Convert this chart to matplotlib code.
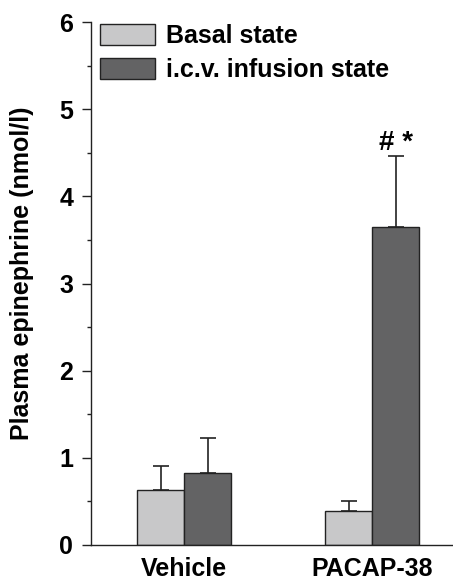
import matplotlib.pyplot as plt
from matplotlib.ticker import MultipleLocator

plt.rcParams['font.family'] = ['Liberation Sans', 'DejaVu Sans']
plt.rcParams['font.weight'] = 'bold'

# Plasma epinephrine (nmol/l)
groups = ['Vehicle', 'PACAP-38']
basal = [0.63, 0.39]
basal_err = [0.28, 0.11]
infusion = [0.83, 3.65]
infusion_err = [0.40, 0.81]
labels = ['Basal state', 'i.c.v. infusion state']

fig = plt.figure(figsize=(4.53, 5.84), dpi=100)
ax = fig.add_axes([0.2002, 0.0668, 0.7998, 0.8955])

x = list(range(len(groups)))
w = 0.25
ax.bar([i - w / 2 for i in x], basal, w, yerr=[[0] * len(x), basal_err],
       color='#c8c8c9', edgecolor='#222222', linewidth=1.0, label=labels[0],
       error_kw=dict(ecolor='#222222', elinewidth=1.2, capsize=5.5, capthick=1.2))
ax.bar([i + w / 2 for i in x], infusion, w, yerr=[[0] * len(x), infusion_err],
       color='#636364', edgecolor='#222222', linewidth=1.0, label=labels[1],
       error_kw=dict(ecolor='#222222', elinewidth=1.2, capsize=5.5, capthick=1.2))

ax.text(1 + w / 2, 4.53, '# *', ha='center', va='baseline', fontsize=20, fontweight='bold')

ax.set_xlim(-0.498, 1.429)
ax.set_ylim(0, 6)
ax.set_xticks(x)
ax.set_xticklabels(groups, fontsize=18, fontweight='bold')
ax.tick_params(axis='x', length=0, pad=9)
ax.yaxis.set_major_locator(MultipleLocator(1))
ax.yaxis.set_minor_locator(MultipleLocator(0.5))
ax.tick_params(axis='y', which='major', length=6.5, width=1.0, labelsize=18, pad=6, color='#222222')
ax.tick_params(axis='y', which='minor', length=3, width=1.0, color='#222222')
for lab in ax.get_yticklabels():
    lab.set_fontweight('bold')
ax.spines['top'].set_visible(False)
ax.spines['right'].set_visible(False)
ax.spines['left'].set_linewidth(1.0)
ax.spines['bottom'].set_linewidth(1.0)
ax.spines['left'].set_color('#222222')
ax.spines['bottom'].set_color('#222222')

fig.text(22 / 453, 1 - 273 / 584, 'Plasma epinephrine (nmol/l)', rotation=90,
         ha='center', va='center', fontsize=18, fontweight='bold')

ax.legend(loc='upper left', bbox_to_anchor=(0.0257, 0.996), frameon=False,
          borderpad=0, borderaxespad=0, handlelength=2.2, handleheight=0.88,
          handletextpad=0.44, labelspacing=0.4, prop=dict(size=18, weight='bold'))

fig.savefig('out.png', dpi=100, facecolor='white')
